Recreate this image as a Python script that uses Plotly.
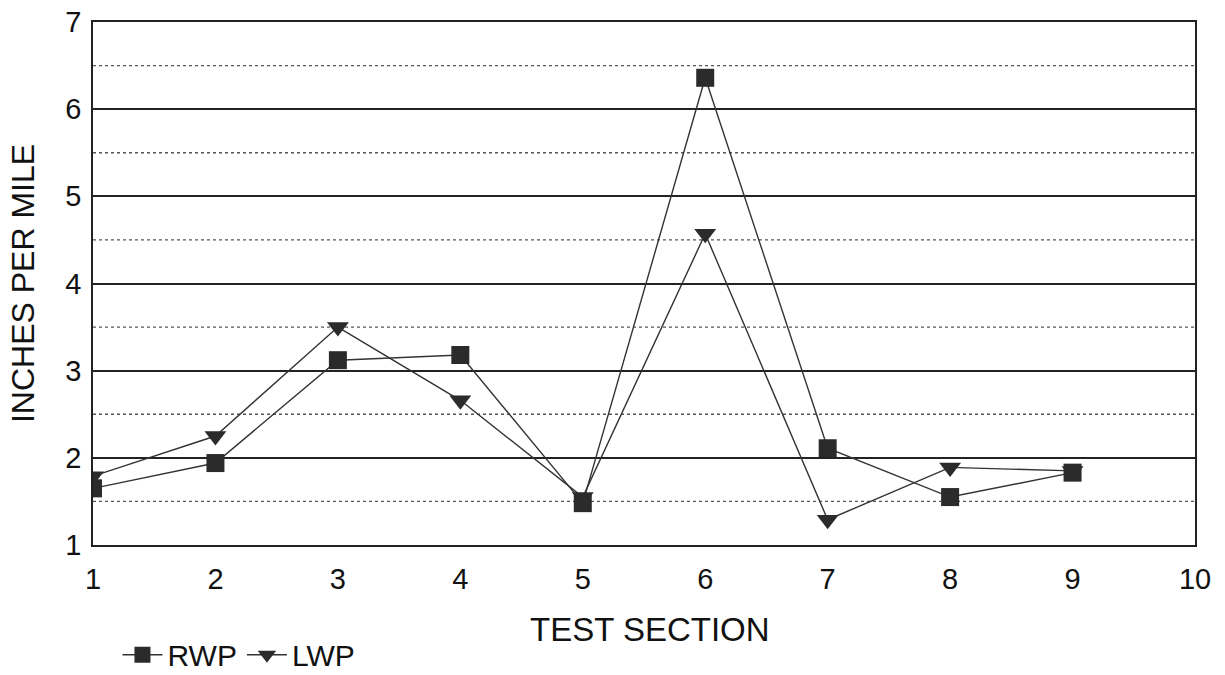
import plotly.graph_objects as go

sections = [1, 2, 3, 4, 5, 6, 7, 8, 9]
rwp = [1.65, 1.94, 3.12, 3.18, 1.48, 6.36, 2.11, 1.55, 1.83]
lwp = [1.79, 2.25, 3.50, 2.66, 1.55, 4.57, 1.29, 1.89, 1.85]
x_ticks = [1, 2, 3, 4, 5, 6, 7, 8, 9, 10]
y_ticks = [1, 2, 3, 4, 5, 6, 7]
minor_levels = [1.5, 2.5, 3.5, 4.5, 5.5, 6.5]
x_title = "TEST SECTION"
y_title = "INCHES PER MILE"

FONT = "Liberation Sans, Arial, sans-serif"

fig = go.Figure()
fig.add_trace(go.Scatter(
    x=sections, y=rwp, name="RWP", mode="lines+markers",
    line=dict(color="#333333", width=1.4),
    marker=dict(symbol="square", size=18, color="#2b2b2b"),
))
fig.add_trace(go.Scatter(
    x=sections, y=lwp, name="LWP", mode="lines+markers",
    line=dict(color="#333333", width=1.4),
    marker=dict(symbol="triangle-down", size=19, color="#2b2b2b"),
))

for lv in minor_levels:
    fig.add_hline(y=lv, line=dict(color="#555555", width=1.3, dash="dot"), layer="below")

fig.add_annotation(
    text=x_title, xref="paper", yref="paper", x=0.505, y=-0.1625,
    xanchor="center", yanchor="middle", showarrow=False,
    font=dict(size=33),
)

fig.update_layout(
    width=1225, height=675,
    paper_bgcolor="white", plot_bgcolor="white",
    margin=dict(l=93, r=30, t=22, b=130),
    font=dict(family=FONT, size=29, color="#111111"),
    showlegend=True,
    legend=dict(orientation="h", xref="container", yref="container",
                x=0.0959, y=0.030, xanchor="left", yanchor="middle",
                font=dict(size=30), itemwidth=40, bgcolor="rgba(0,0,0,0)"),
)
fig.update_xaxes(
    range=[1, 10], tickvals=x_ticks, ticktext=[str(v) for v in x_ticks],
    showgrid=False, zeroline=False, automargin=False, ticklabeloverflow="allow",
    showline=True, linecolor="#222222", linewidth=1.5, mirror=True,
    ticks="", ticklabelstandoff=7,
)
fig.update_yaxes(
    range=[1, 7], tickvals=y_ticks, ticktext=[str(v) for v in y_ticks],
    showgrid=True, gridcolor="#222222", gridwidth=1.5, zeroline=False, automargin=False,
    ticklabeloverflow="allow",
    showline=True, linecolor="#222222", linewidth=1.5, mirror=True,
    ticks="", ticklabelstandoff=4,
    title=dict(text=y_title, font=dict(size=32), standoff=21),
)

fig.write_html("out.html", config={"displayModeBar": False},
               post_script="document.body.style.margin='0';")
